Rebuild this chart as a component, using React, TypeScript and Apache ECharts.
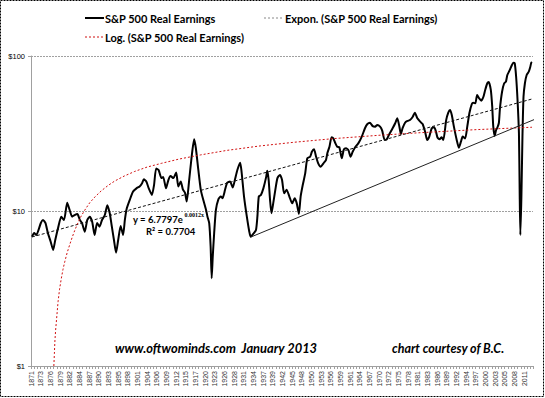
import React, { useEffect, useRef } from "react";
import * as echarts from "echarts";

const START_YEAR = 1871;
const END_YEAR = 2013.8;
const LABEL_STEP_QUARTERS = 11;

// S&P 500 real earnings (year, $)
const earnings: [number, number][] = [
  [1871.3, 6.82], [1871.9, 7.21], [1872.5, 7.0], [1873.8, 8.37], [1874.4, 8.75], [1875.1, 8.37], [1875.8, 7.21],
  [1876.6, 6.34], [1877.3, 5.6], [1877.9, 6.5], [1878.7, 7.77], [1879.6, 9.19], [1880.4, 8.75], [1881.3, 11.3],
  [1882.0, 10.15], [1882.7, 9.19], [1883.4, 9.42], [1884.2, 9.56], [1884.9, 8.75], [1885.5, 8.37], [1886.3, 7.35],
  [1887.0, 8.75], [1887.7, 9.19], [1888.4, 8.53], [1889.1, 7.0], [1889.8, 8.37], [1890.5, 7.92], [1891.2, 8.75],
  [1892.0, 9.42], [1892.7, 10.9], [1893.4, 9.66], [1894.0, 7.92], [1894.6, 6.5], [1895.2, 5.38], [1895.8, 6.5],
  [1896.5, 8.0], [1897.2, 7.0], [1897.7, 8.75], [1898.2, 10.3], [1899.1, 11.8], [1900.0, 13.3], [1901.0, 14.0],
  [1901.9, 14.4], [1902.6, 15.1], [1903.1, 16.0], [1903.8, 15.5], [1904.5, 14.0], [1905.4, 12.7], [1906.0, 14.7],
  [1906.6, 18.8], [1907.3, 18.4], [1908.1, 16.3], [1908.6, 16.6], [1909.4, 14.0], [1910.1, 15.9], [1910.7, 16.8],
  [1911.5, 16.3], [1912.3, 17.7], [1912.9, 14.4], [1913.6, 15.5], [1914.2, 13.8], [1914.8, 13.1], [1915.3, 11.5],
  [1916.0, 15.9], [1916.7, 22.4], [1917.4, 29.0], [1917.9, 25.4], [1918.6, 18.4], [1919.3, 13.7], [1920.0, 11.8],
  [1920.8, 10.15], [1921.2, 9.19], [1921.7, 8.33], [1922.1, 5.88], [1922.4, 3.68], [1922.7, 5.07], [1923.1, 7.18],
  [1923.6, 10.15], [1924.3, 11.9], [1925.0, 12.4], [1925.5, 12.1], [1926.2, 13.7], [1926.8, 15.2], [1927.6, 15.5],
  [1928.4, 14.2], [1929.0, 15.9], [1929.7, 18.4], [1930.5, 20.5], [1930.9, 17.9], [1931.6, 12.4], [1932.4, 9.19],
  [1933.1, 7.35], [1933.5, 6.82], [1934.2, 7.11], [1935.0, 7.54], [1935.4, 9.19], [1935.8, 12.4], [1936.4, 12.7],
  [1937.1, 14.0], [1937.9, 16.6], [1938.2, 18.2], [1938.6, 15.9], [1939.0, 11.8], [1939.4, 9.66], [1939.9, 11.2],
  [1940.5, 13.7], [1941.1, 16.3], [1941.8, 17.1], [1942.4, 15.9], [1943.0, 13.0], [1943.7, 13.7], [1944.5, 12.4],
  [1945.3, 11.2], [1946.0, 12.1], [1946.6, 11.2], [1947.2, 9.56], [1947.7, 12.4], [1948.3, 14.7], [1949.0, 17.5],
  [1949.6, 21.9], [1950.4, 22.4], [1950.9, 24.1], [1951.5, 25.0], [1952.1, 22.4], [1952.7, 20.3], [1953.4, 19.3],
  [1954.2, 20.3], [1954.9, 21.3], [1955.3, 23.6], [1955.9, 26.0], [1956.5, 29.9], [1957.0, 29.4], [1957.6, 27.3],
  [1958.1, 26.0], [1958.7, 25.8], [1959.4, 21.9], [1960.0, 25.0], [1960.6, 25.4], [1961.3, 24.7], [1961.9, 22.4],
  [1962.5, 24.1], [1963.2, 25.8], [1964.1, 27.3], [1965.1, 30.2], [1966.0, 34.2], [1966.7, 36.4], [1967.4, 37.1],
  [1968.2, 35.3], [1968.9, 35.0], [1969.5, 35.9], [1970.3, 35.0], [1970.9, 33.0], [1971.6, 28.7], [1972.2, 29.0],
  [1972.8, 30.9], [1973.6, 33.3], [1974.6, 36.8], [1975.2, 39.6], [1975.8, 35.0], [1976.2, 31.4], [1976.7, 34.2],
  [1977.4, 37.1], [1978.1, 38.1], [1978.8, 38.6], [1979.6, 40.6], [1980.2, 43.1], [1980.9, 39.6], [1981.7, 37.7],
  [1982.4, 36.4], [1983.1, 32.5], [1983.7, 28.7], [1984.3, 30.2], [1985.0, 34.2], [1985.7, 34.7], [1986.2, 32.5],
  [1986.6, 29.9], [1987.2, 29.0], [1987.8, 29.9], [1988.3, 28.7], [1989.1, 38.6], [1989.7, 43.1], [1990.2, 44.9],
  [1990.7, 41.6], [1991.3, 35.0], [1992.1, 28.7], [1992.7, 25.6], [1993.3, 28.0], [1993.8, 30.2], [1994.5, 29.4],
  [1995.1, 35.0], [1995.7, 42.7], [1996.4, 49.0], [1996.8, 50.0], [1997.4, 49.5], [1997.9, 56.0], [1998.5, 53.3],
  [1999.1, 51.5], [1999.7, 54.6], [2000.2, 60.4], [2000.8, 66.7], [2001.2, 68.0], [2001.8, 60.4], [2002.2, 47.1],
  [2002.5, 35.0], [2002.9, 30.5], [2003.3, 33.3], [2003.7, 34.7], [2004.1, 37.1], [2004.4, 46.0], [2005.0, 58.8],
  [2005.6, 66.7], [2006.1, 68.3], [2006.5, 75.4], [2007.1, 80.4], [2007.8, 87.5], [2008.2, 90.5], [2008.6, 89.7],
  [2009.0, 73.5], [2009.4, 52.0], [2009.8, 31.7], [2010.0, 13.7], [2010.2, 7.0], [2010.5, 12.4], [2010.8, 30.2],
  [2011.1, 54.6], [2011.5, 66.7], [2012.0, 75.4], [2012.6, 79.2], [2013.0, 84.5], [2013.3, 90.5], [2013.5, 91.5],
];

// Exponential trendline end points (straight on a log axis)
const expTrend: [number, number][] = [
  [1871.3, 6.8],
  [2013.5, 52.8],
];

// Logarithmic trendline
const logTrend: [number, number][] = [
  [1877.5, 1.0], [1877.65, 1.2], [1877.8, 1.45], [1878.0, 1.7], [1878.3, 2.04], [1878.7, 2.6], [1879.1, 3.1],
  [1879.6, 3.65], [1880.1, 4.2], [1880.6, 4.7], [1881.3, 5.4], [1882.0, 6.05], [1882.7, 6.75], [1883.4, 7.45],
  [1884.3, 8.35], [1885.3, 9.3], [1886.5, 10.3], [1887.7, 11.3], [1889.3, 12.4], [1891.0, 13.5], [1892.9, 14.6],
  [1894.8, 15.6], [1897.5, 16.8], [1900.5, 18.0], [1904.0, 19.2], [1908.1, 20.3], [1913.0, 21.6], [1919.2, 23.0],
  [1926.7, 24.6], [1936.2, 26.3], [1946.1, 27.8], [1957.0, 29.3], [1970.0, 30.8], [1981.7, 32.0], [1997.8, 33.5],
  [2013.5, 34.7],
];

// Hand-drawn support line
const supportLine: [number, number][] = [
  [1933.6, 6.8],
  [2015.2, 39.8],
];

const legendLabels = [
  "S&P 500 Real Earnings",
  "Expon. (S&P 500 Real Earnings)",
  "Log. (S&P 500 Real Earnings)",
];
const equationMain = "y = 6.7797e";
const equationExp = "0.0012x";
const equationR2 = "R² = 0.7704";
const footerLeft = "www.oftwominds.com  January 2013";
const footerRight = "chart courtesy of B.C.";

const toQ = (year: number) => (year - START_YEAR) * 4;
const mapData = (arr: [number, number][]) => arr.map(([y, v]) => [toQ(y), v]);

const CAL = "Lato, 'Open Sans', sans-serif";

export default function App() {
  const ref = useRef<HTMLDivElement>(null);

  useEffect(() => {
    if (!ref.current) return;
    const chart = echarts.init(ref.current, undefined, { renderer: "svg" });

    const option: any = {
      animation: false,
      backgroundColor: "#ffffff",
      grid: { left: 31, right: 12, top: 56, bottom: 32, containLabel: false },
      xAxis: {
        type: "value",
        min: 0,
        max: toQ(END_YEAR),
        interval: LABEL_STEP_QUARTERS,
        axisLine: { show: true, lineStyle: { color: "#a0a0a0", width: 1 } },
        axisTick: { show: true, length: 3, lineStyle: { color: "#a0a0a0" } },
        minorTick: { show: true, splitNumber: 3, length: 3, lineStyle: { color: "#a0a0a0" } },
        splitLine: { show: false },
        axisLabel: {
          rotate: 90,
          fontSize: 7,
          fontFamily: "'Liberation Sans', Arial, sans-serif",
          color: "#333",
          margin: 5,
          showMaxLabel: false,
          formatter: (v: number) => String(Math.floor(START_YEAR + v / 4)),
        },
      },
      yAxis: {
        type: "log",
        logBase: 10,
        min: 1,
        max: 100,
        axisLine: { show: true, lineStyle: { color: "#a0a0a0", width: 1 } },
        axisTick: { show: true, length: 3, lineStyle: { color: "#a0a0a0" } },
        splitLine: { show: true, lineStyle: { color: "#a0a0a0", width: 1, type: [2, 1] } },
        axisLabel: {
          fontSize: 7.5,
          fontFamily: "'Liberation Sans', Arial, sans-serif",
          color: "#000",
          margin: 6,
          formatter: (v: number) => "$" + Math.round(v),
        },
      },
      series: [
        {
          name: legendLabels[0],
          type: "line",
          data: mapData(earnings),
          showSymbol: false,
          smooth: 0.2,
          lineStyle: { color: "#000", width: 2, join: "round" },
          z: 3,
        },
        {
          name: legendLabels[1],
          type: "line",
          data: mapData(expTrend),
          showSymbol: false,
          lineStyle: { color: "#111", width: 1, type: [3, 2] },
          z: 4,
        },
        {
          name: legendLabels[2],
          type: "line",
          data: mapData(logTrend),
          showSymbol: false,
          smooth: false,
          lineStyle: { color: "#d01010", width: 1, type: [2, 2] },
          z: 4,
        },
        {
          name: "support",
          type: "line",
          data: mapData(supportLine),
          showSymbol: false,
          clip: false,
          lineStyle: { color: "#222", width: 1 },
          z: 4,
        },
      ],
      graphic: [
        {
          type: "rect",
          silent: true,
          shape: { x: 0.5, y: 0.5, width: 543, height: 396 },
          style: { fill: "none", stroke: "#000", lineWidth: 1, lineDash: [2, 1] },
        },
        { type: "line", shape: { x1: 85, y1: 18, x2: 104, y2: 18 }, style: { stroke: "#000", lineWidth: 2 } },
        {
          type: "text",
          x: 105,
          y: 18,
          style: { text: legendLabels[0], fontFamily: CAL, fontWeight: "bold", fontSize: 11, fill: "#000", align: "left", verticalAlign: "middle" },
        },
        { type: "line", shape: { x1: 264, y1: 18, x2: 284, y2: 18 }, style: { stroke: "#888", lineWidth: 1, lineDash: [2, 2] } },
        {
          type: "text",
          x: 285,
          y: 18,
          style: { text: legendLabels[1], fontFamily: CAL, fontWeight: "bold", fontSize: 11, fill: "#000", align: "left", verticalAlign: "middle" },
        },
        { type: "line", shape: { x1: 85, y1: 37, x2: 104, y2: 37 }, style: { stroke: "#d01010", lineWidth: 1, lineDash: [2, 2] } },
        {
          type: "text",
          x: 105,
          y: 37,
          style: { text: legendLabels[2], fontFamily: CAL, fontWeight: "bold", fontSize: 11, fill: "#000", align: "left", verticalAlign: "middle" },
        },
        {
          type: "text",
          x: 133,
          y: 219,
          z: 10,
          style: { text: equationMain, fontFamily: CAL, fontWeight: "bold", fontSize: 9.5, fill: "#000", align: "left", verticalAlign: "middle" },
        },
        {
          type: "text",
          x: 184.5,
          y: 214.5,
          z: 10,
          style: { text: equationExp, fontFamily: "'Liberation Serif', serif", fontWeight: "bold", fontSize: 6, fill: "#000", align: "left", verticalAlign: "middle" },
        },
        {
          type: "text",
          x: 146,
          y: 231,
          z: 10,
          style: { text: equationR2, fontFamily: CAL, fontWeight: "bold", fontSize: 9.5, fill: "#000", align: "left", verticalAlign: "middle" },
        },
        {
          type: "text",
          x: 115,
          y: 348,
          style: { text: footerLeft, fontFamily: CAL, fontWeight: "bold", fontStyle: "italic", fontSize: 12.9, fill: "#000", align: "left", verticalAlign: "middle" },
        },
        {
          type: "text",
          x: 392,
          y: 348,
          style: { text: footerRight, fontFamily: CAL, fontWeight: "bold", fontStyle: "italic", fontSize: 12.5, fill: "#000", align: "left", verticalAlign: "middle" },
        },
      ],
    };

    chart.setOption(option);
    return () => chart.dispose();
  }, []);

  return (
    <div
      ref={ref}
      style={{ position: "absolute", left: 0, top: 0, width: 545, height: 398, background: "#fff" }}
    />
  );
}
